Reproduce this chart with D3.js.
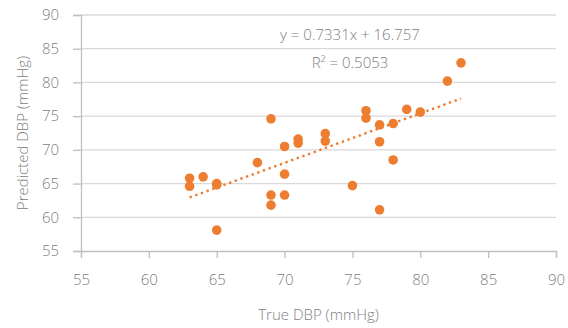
<!DOCTYPE html>
<html>
<head>
<meta charset="utf-8">
<script src="https://cdn.jsdelivr.net/npm/d3@7"></script>
<style>
  body { margin: 0; background: #fff; }
  text { font-family: "Open Sans", "Segoe UI", sans-serif; font-weight: 300; fill: #808080; }
</style>
</head>
<body>
<div id="chart"></div>
<script>
// true DBP (x) vs predicted DBP (y), mmHg
const trueDBP = [63, 63, 64, 65, 65, 65, 68, 69, 69, 69, 70, 70, 70, 71, 71, 73, 73, 75, 76, 76, 77, 77, 77, 78, 78, 79, 80, 82, 83];
const predDBP = [65.8, 64.6, 66.0, 65.0, 64.8, 58.1, 68.1, 74.6, 63.3, 61.8, 70.5, 66.4, 63.3, 71.6, 71.0, 72.4, 71.3, 64.7, 75.8, 74.7, 73.7, 71.2, 61.1, 73.9, 68.5, 76.0, 75.6, 80.2, 82.9];
const xTicks = [55, 60, 65, 70, 75, 80, 85, 90];
const yTicks = [55, 60, 65, 70, 75, 80, 85, 90];
const slope = 0.7331;
const intercept = 16.757;
const rSquared = 0.5053;

const width = 568, height = 328;
const margin = { left: 81, right: 12, top: 15, bottom: 77 };

const svg = d3.select("#chart").append("svg")
  .attr("width", width)
  .attr("height", height);

const xScale = d3.scaleLinear().domain([55, 90]).range([margin.left, width - margin.right]);
const yScale = d3.scaleLinear().domain([55, 90]).range([height - margin.bottom, margin.top]);

// horizontal gridlines
svg.append("g")
  .selectAll("line")
  .data(yTicks.slice(1))
  .join("line")
  .attr("x1", xScale(55)).attr("x2", xScale(90))
  .attr("y1", d => yScale(d)).attr("y2", d => yScale(d))
  .style("stroke", "#d9d9d9").style("stroke-width", 1.3);

// y axis
const yAxis = svg.append("g")
  .attr("transform", `translate(${margin.left},0)`)
  .call(d3.axisLeft(yScale).tickValues(yTicks).tickSize(8).tickPadding(14));
yAxis.select(".domain").style("stroke", "#bfbfbf").style("stroke-width", 1.3);
yAxis.selectAll(".tick line").style("stroke", "#bfbfbf").style("stroke-width", 1.3);
yAxis.selectAll(".tick text").style("font-size", "15px").style("fill", "#808080");

// x axis
const xAxis = svg.append("g")
  .attr("transform", `translate(0,${yScale(55)})`)
  .call(d3.axisBottom(xScale).tickValues(xTicks).tickSize(7).tickPadding(16));
xAxis.select(".domain").style("stroke", "#bfbfbf").style("stroke-width", 1.3);
xAxis.selectAll(".tick line").style("stroke", "#bfbfbf").style("stroke-width", 1.3);
xAxis.selectAll(".tick text").style("font-size", "15px").style("fill", "#808080");

svg.selectAll(".tick text").attr("font-family", null);

// axis titles
svg.append("text")
  .attr("x", (xScale(55) + xScale(90)) / 2)
  .attr("y", 320)
  .attr("text-anchor", "middle")
  .style("font-size", "15px")
  .text("True DBP (mmHg)");

svg.append("text")
  .attr("transform", `translate(28,${(yScale(55) + yScale(90)) / 2}) rotate(-90)`)
  .attr("text-anchor", "middle")
  .style("font-size", "15px")
  .text("Predicted DBP (mmHg)");

// trendline over the data range
const xExtent = d3.extent(trueDBP);
svg.append("line")
  .attr("x1", xScale(xExtent[0])).attr("y1", yScale(slope * xExtent[0] + intercept))
  .attr("x2", xScale(xExtent[1])).attr("y2", yScale(slope * xExtent[1] + intercept))
  .style("stroke", "#ED7D31")
  .style("stroke-width", 2.4)
  .style("stroke-dasharray", "2.4,3.6");

// points
svg.append("g")
  .selectAll("circle")
  .data(trueDBP.map((x, i) => [x, predDBP[i]]))
  .join("circle")
  .attr("cx", d => xScale(d[0]))
  .attr("cy", d => yScale(d[1]))
  .attr("r", 4.8)
  .style("fill", "#ED7D31");

// equation labels
svg.append("text")
  .attr("x", 350).attr("y", 40)
  .attr("text-anchor", "middle")
  .style("font-size", "15px")
  .text(`y = ${slope}x + ${intercept}`);

svg.append("text")
  .attr("x", 350).attr("y", 68)
  .attr("text-anchor", "middle")
  .style("font-size", "15px")
  .text(`R² = ${rSquared}`);
</script>
</body>
</html>
